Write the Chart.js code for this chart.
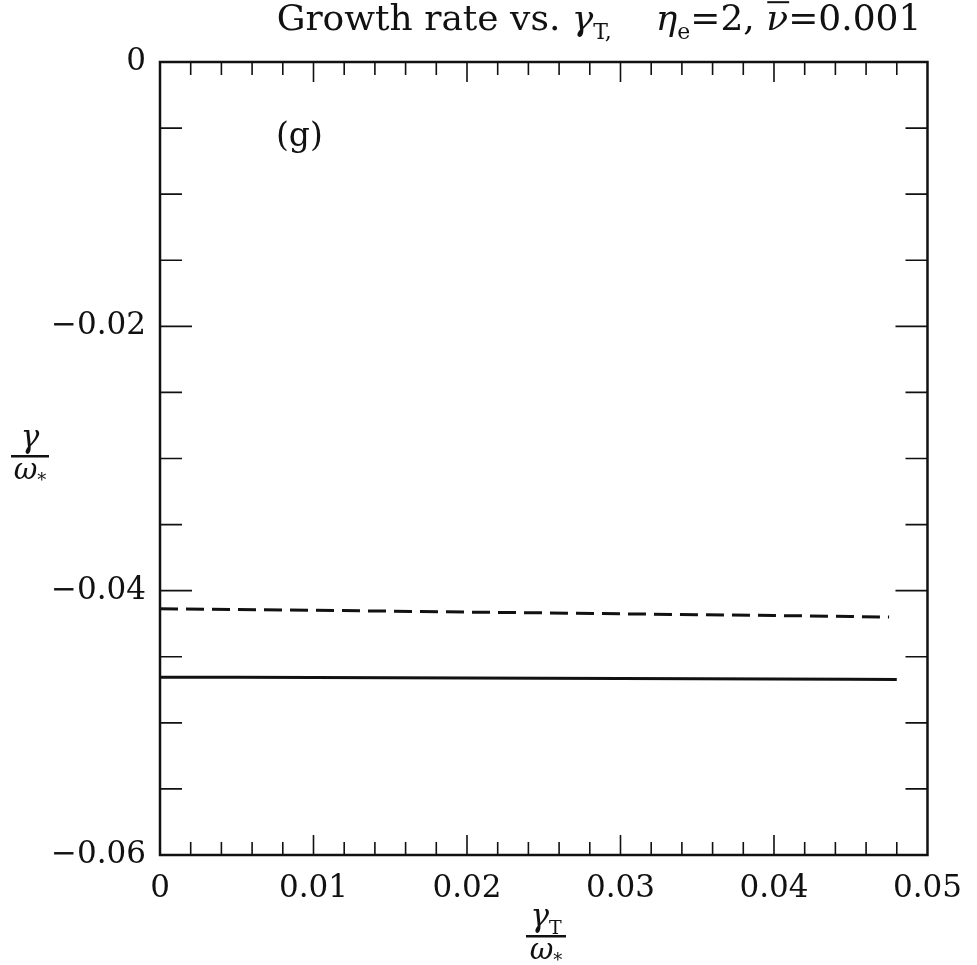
<!DOCTYPE html>
<html>
<head>
<meta charset="utf-8">
<script src="https://cdn.jsdelivr.net/npm/chart.js"></script>
<style>
  html, body { margin: 0; padding: 0; background: #fff; }
</style>
</head>
<body>
<canvas id="c" width="977" height="965"></canvas>
<script>
// gamma_T / omega_* values along the curves
var dashedX    = [0, 0.005, 0.01, 0.015, 0.02, 0.025, 0.03, 0.035, 0.04, 0.045, 0.0475];
var dashedRate = [-0.04137, -0.04142, -0.04148, -0.04155, -0.04162, -0.04168, -0.04175, -0.04182, -0.04188, -0.04195, -0.04200];
var solidX     = [0, 0.005, 0.01, 0.015, 0.02, 0.025, 0.03, 0.035, 0.04, 0.045, 0.048];
var solidRate  = [-0.04655, -0.04655, -0.04657, -0.04658, -0.04660, -0.04662, -0.04664, -0.04666, -0.04668, -0.04670, -0.04672];

// tick labels
var xTickValues = [0, 0.01, 0.02, 0.03, 0.04, 0.05];
var xTickLabels = ['0', '0.01', '0.02', '0.03', '0.04', '0.05'];
var yTickValues = [0, -0.02, -0.04, -0.06];
var yTickLabels = ['0', '\u22120.02', '\u22120.04', '\u22120.06'];

var X_MINOR = 0.002, Y_MINOR = 0.005;
var FONT = '"DejaVu Serif", "Liberation Serif", serif';
var INK = '#111';

function pts(xs, ys) {
  return xs.map(function (x, i) { return { x: x, y: ys[i] }; });
}

// draws a row of text pieces; each piece may be italic, subscript or overlined
function drawPieces(ctx, pieces, cx, baseline, size) {
  var widths = pieces.map(function (p) {
    ctx.font = (p.it ? 'italic ' : '') + Math.round(p.sub ? size * 0.62 : size) + 'px ' + FONT;
    return ctx.measureText(p.t).width + (p.gap || 0);
  });
  var total = widths.reduce(function (a, b) { return a + b; }, 0);
  var x = cx - total / 2;
  ctx.textAlign = 'left';
  ctx.textBaseline = 'alphabetic';
  pieces.forEach(function (p, i) {
    var s = p.sub ? size * 0.62 : size;
    ctx.font = (p.it ? 'italic ' : '') + Math.round(s) + 'px ' + FONT;
    var y = baseline + (p.sub ? size * 0.25 : 0);
    ctx.fillText(p.t, x, y);
    if (p.over) {
      var w = ctx.measureText(p.t).width;
      ctx.fillRect(x + 1, baseline - size * 0.8, w, 2);
    }
    x += widths[i];
  });
}

var framePlugin = {
  id: 'frame',
  afterDraw: function (chart) {
    var ctx = chart.ctx, a = chart.chartArea;
    var xs = chart.scales.x, ys = chart.scales.y;
    ctx.save();
    ctx.strokeStyle = INK;
    ctx.fillStyle = INK;

    // box
    ctx.lineWidth = 2.5;
    ctx.strokeRect(a.left, a.top, a.right - a.left, a.bottom - a.top);

    // inward ticks
    ctx.lineWidth = 1.6;
    ctx.beginPath();
    var n, v, p, len;
    for (n = 1; n < Math.round(0.05 / X_MINOR); n++) {
      v = n * X_MINOR;
      p = xs.getPixelForValue(v);
      len = (n % 5 === 0) ? 20 : 13;
      ctx.moveTo(p, a.top); ctx.lineTo(p, a.top + len);
      ctx.moveTo(p, a.bottom); ctx.lineTo(p, a.bottom - len);
    }
    for (n = 1; n < Math.round(0.06 / Y_MINOR); n++) {
      v = -n * Y_MINOR;
      p = ys.getPixelForValue(v);
      len = (n % 4 === 0) ? 32 : 22;
      ctx.moveTo(a.left, p); ctx.lineTo(a.left + len, p);
      ctx.moveTo(a.right, p); ctx.lineTo(a.right - len, p);
    }
    ctx.stroke();

    // title
    drawPieces(ctx, [
      { t: 'Growth rate vs. ' },
      { t: '\u03b3', it: true },
      { t: 'T,', sub: true, gap: 44 },
      { t: '\u03b7', it: true },
      { t: 'e', sub: true },
      { t: '=2, ' },
      { t: '\u03bd', it: true, over: true },
      { t: '=0.001' }
    ], 599, 30, 36);

    // panel tag
    ctx.font = '33px ' + FONT;
    ctx.textAlign = 'left';
    ctx.textBaseline = 'alphabetic';
    ctx.fillText('(g)', 276, 146);

    // y axis title: gamma / omega_*
    drawPieces(ctx, [{ t: '\u03b3', it: true }], 30, 447, 31);
    ctx.fillRect(11, 455, 38, 2.5);
    drawPieces(ctx, [{ t: '\u03c9', it: true }, { t: '*', sub: true }], 30, 479, 29);

    // x axis title: gamma_T / omega_*
    drawPieces(ctx, [{ t: '\u03b3', it: true }, { t: 'T', sub: true }], 546, 926, 31);
    ctx.fillRect(526, 935, 40, 2.5);
    drawPieces(ctx, [{ t: '\u03c9', it: true }, { t: '*', sub: true }], 546, 959, 29);

    ctx.restore();
  }
};

new Chart(document.getElementById('c'), {
  type: 'line',
  data: {
    datasets: [
      {
        data: pts(dashedX, dashedRate),
        borderColor: INK, borderWidth: 3, borderDash: [18, 8],
        pointRadius: 0, fill: false, tension: 0
      },
      {
        data: pts(solidX, solidRate),
        borderColor: INK, borderWidth: 3,
        pointRadius: 0, fill: false, tension: 0
      }
    ]
  },
  options: {
    responsive: false,
    animation: false,
    events: [],
    layout: { padding: { left: 0, right: 45, top: 62, bottom: 0 } },
    plugins: { legend: { display: false }, tooltip: { enabled: false }, title: { display: false } },
    scales: {
      x: {
        type: 'linear', min: 0, max: 0.05,
        grid: { display: false, drawTicks: false },
        border: { display: false },
        afterBuildTicks: function (s) { s.ticks = xTickValues.map(function (v) { return { value: v }; }); },
        afterFit: function (s) { s.height = 110; },
        ticks: {
          color: INK, padding: 15, maxRotation: 0, autoSkip: false,
          font: { family: FONT, size: 31 },
          callback: function (v) { return xTickLabels[xTickValues.indexOf(v)]; }
        }
      },
      y: {
        type: 'linear', min: -0.06, max: 0,
        grid: { display: false, drawTicks: false },
        border: { display: false },
        afterBuildTicks: function (s) { s.ticks = yTickValues.map(function (v) { return { value: v }; }); },
        afterFit: function (s) { s.width = 160; },
        ticks: {
          color: INK, padding: 14, autoSkip: false,
          font: { family: FONT, size: 31 },
          callback: function (v) { return yTickLabels[yTickValues.indexOf(v)]; }
        }
      }
    }
  },
  plugins: [framePlugin]
});
</script>
</body>
</html>
